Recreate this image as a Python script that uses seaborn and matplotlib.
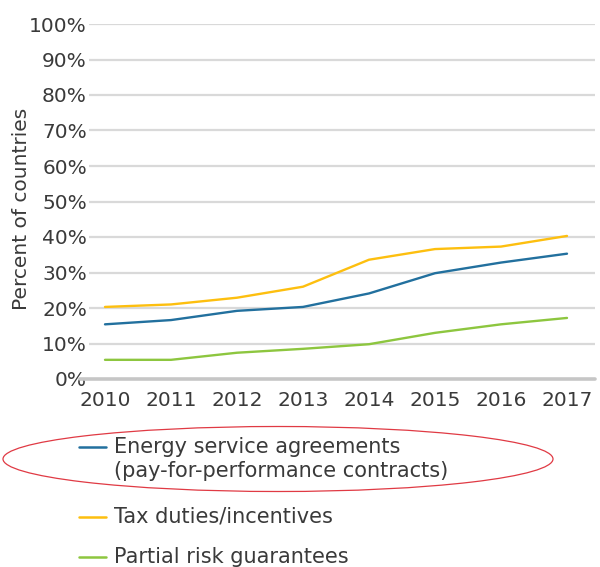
import matplotlib
matplotlib.use("Agg")
import matplotlib.pyplot as plt
from matplotlib.lines import Line2D
from matplotlib.patches import Ellipse
import pandas as pd
import seaborn as sns

years = [2010, 2011, 2012, 2013, 2014, 2015, 2016, 2017]
energy_service = [15.4, 16.6, 19.2, 20.3, 24.1, 29.8, 32.8, 35.3]
tax_duties = [20.3, 21.0, 22.9, 26.0, 33.6, 36.6, 37.3, 40.3]
partial_risk = [5.4, 5.4, 7.4, 8.5, 9.8, 13.0, 15.4, 17.2]

series_names = [
    "Energy service agreements\n(pay-for-performance contracts)",
    "Tax duties/incentives",
    "Partial risk guarantees",
]
series_colors = ["#22709e", "#fdbf0f", "#8dc63f"]
y_ticks = [0, 10, 20, 30, 40, 50, 60, 70, 80, 90, 100]

df = pd.DataFrame({
    "year": years * 3,
    "value": energy_service + tax_duties + partial_risk,
    "series": [series_names[0]] * 8 + [series_names[1]] * 8 + [series_names[2]] * 8,
})

sns.set_style("white")
plt.rcParams["font.family"] = ["DejaVu Sans"]
text_color = "#3a3a3a"
fs = 14.5

W, H = 600, 567
fig = plt.figure(figsize=(W / 100, H / 100), dpi=100)
ax_left, ax_right, ax_top, ax_bottom = 89, 595, 24, 379
ax_w = ax_right - ax_left
ax = fig.add_axes([ax_left / W, 1 - ax_bottom / H,
                   ax_w / W, (ax_bottom - ax_top) / H])

palette = dict(zip(series_names, series_colors))
sns.lineplot(data=df, x="year", y="value", hue="series", palette=palette,
             linewidth=1.7, legend=False, ax=ax, zorder=3)

# 2010 sits 16 px, 2017 sits 478 px into the axes (66 px per year)
ax.set_xlim(2010 - 16 / 66, 2017 + 28 / 66)
ax.set_ylim(0, 100)
ax.set_yticks(y_ticks)
ax.set_yticklabels([f"{t}%" for t in y_ticks])
ax.set_xticks(years)
ax.set_xticklabels([str(y) for y in years])

for t in y_ticks[1:]:
    ax.axhline(t, color="#d9d9d9", linewidth=1.6, zorder=1)
ax.axhline(0, xmin=-9 / ax_w, color="#c6c6c6", linewidth=2.6, zorder=1,
           clip_on=False)

for s in ax.spines.values():
    s.set_visible(False)
ax.tick_params(axis="both", length=0, labelsize=fs, colors=text_color)
ax.tick_params(axis="y", pad=1.5)
ax.tick_params(axis="x", pad=9)
ax.set_xlabel("")
ax.set_ylabel("Percent of countries", fontsize=fs, color=text_color)
ax.yaxis.set_label_coords((31 - ax_left) / ax_w, 0.479)


# legend drawn below the plot
def fx(px):
    return px / W


def fy(py):
    return 1 - py / H


line_gap = 24
handle_y = [447, 517, 557]
for name, color, py in zip(series_names, series_colors, handle_y):
    fig.add_artist(Line2D([fx(79), fx(106)], [fy(py), fy(py)], color=color,
                          linewidth=1.8, transform=fig.transFigure))
    for i, part in enumerate(name.split("\n")):
        fig.text(fx(114), fy(py + 6 + i * line_gap), part, ha="left",
                 va="baseline", fontsize=15, color=text_color)

fig.add_artist(Ellipse((fx(278), fy(459)), width=fx(550), height=65 / H,
                       transform=fig.transFigure, fill=False,
                       edgecolor="#e03a44", linewidth=0.9))

fig.savefig("out.png", dpi=100)
